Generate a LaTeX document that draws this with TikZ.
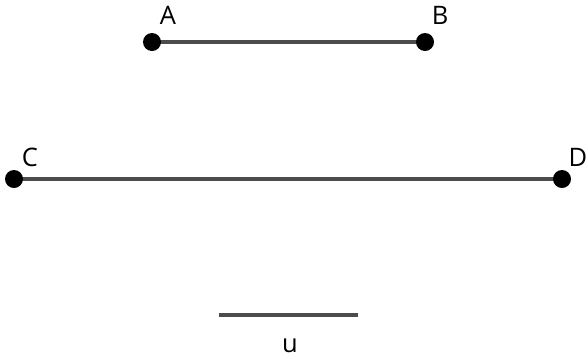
\documentclass[tikz,border=0pt]{standalone}
\usepackage{fontspec}
\setmainfont{Open Sans}
\usetikzlibrary{positioning,backgrounds}
\tikzset{
  dot/.style    = {circle, fill=black, inner sep=0pt, minimum size=0.36cm},
  seg/.style    = {line width=1.8pt, color=black!70},
  lbl/.style    = {anchor=base, inner sep=0pt, font=\fontsize{14.5}{16}\selectfont},
}
\begin{document}
\begin{tikzpicture}[x=0.02cm, y=-0.02cm]
  \useasboundingbox (0,0) rectangle (587,356);

  % points
  \node[dot] (A) at (152,42) {};
  \node[dot] (B) at (425,42) {};
  \node[dot] (C) at (14,179) {};
  \node[dot] (D) at (562,179) {};

  % segments (behind the points)
  \begin{scope}[on background layer]
    \draw[seg] (A.center) -- (B.center);
    \draw[seg] (C.center) -- (D.center);
  \end{scope}

  % unit segment
  \coordinate (u1) at (219,315);
  \coordinate (u2) at (358,315);
  \draw[seg] (u1) -- (u2);

  % labels
  \node[lbl] (lA) at (168,24) {A};
  \node[lbl] (lB) at (440,24) {B};
  \node[lbl] (lC) at (30,166) {C};
  \node[lbl] (lD) at (578,166) {D};
  \node[lbl] (lu) at (290,352) {u};
\end{tikzpicture}
\end{document}
